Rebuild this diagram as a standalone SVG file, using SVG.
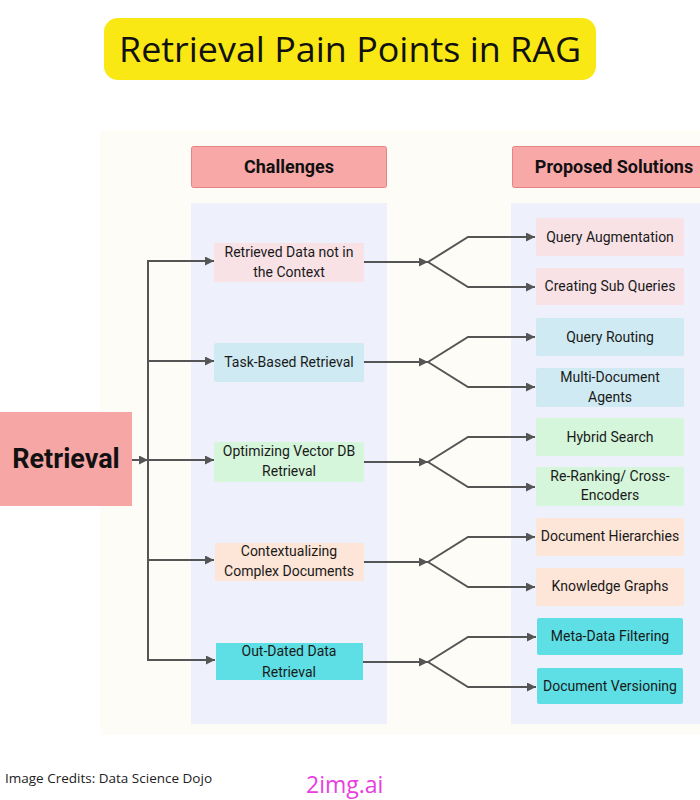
<svg xmlns="http://www.w3.org/2000/svg" width="700" height="800" viewBox="0 0 700 800">
<defs>
<marker id="arr" viewBox="0 0 10 10" refX="10" refY="5" markerWidth="9" markerHeight="9" markerUnits="userSpaceOnUse" orient="auto">
<path d="M0,0 L10,5 L0,10 z" fill="#555"/>
</marker>
</defs>
<style>
.t{font-family:Roboto,"Liberation Sans",sans-serif;font-size:14px;fill:#1a1a1a;text-anchor:middle}
.h{font-family:Roboto,"Liberation Sans",sans-serif;font-size:18px;font-weight:bold;fill:#111;text-anchor:middle}
.c{fill:none;stroke:#555;stroke-width:2}
.pink{fill:#f8e2e6}.blue{fill:#cfeaf2}.green{fill:#d5f6da}.peach{fill:#fde5d7}.cyan{fill:#5ddfe5}
</style>
<rect width="700" height="800" fill="#ffffff"/>
<g id="title">
<rect x="104" y="18" width="492" height="62" rx="14" fill="#f9e814"/>
<text x="350" y="62" font-family="'Open Sans','Liberation Sans',sans-serif" font-size="34" fill="#111" text-anchor="middle" textLength="462" lengthAdjust="spacingAndGlyphs">Retrieval Pain Points in RAG</text>
</g>
<rect x="100" y="130" width="600" height="605" fill="#fdfcf7"/>
<g id="challenges-header">
<rect x="191.5" y="146.5" width="195" height="41" rx="2" fill="#f9a8a8" stroke="#e58383" stroke-width="1"/>
<text class="h" x="289" y="173">Challenges</text>
</g>
<g id="solutions-header">
<rect x="512.5" y="146.5" width="195" height="41" rx="2" fill="#f9a8a8" stroke="#e58383" stroke-width="1"/>
<text class="h" x="614" y="173">Proposed Solutions</text>
</g>
<rect x="191" y="203" width="196" height="521" fill="#eef0fb"/>
<rect x="511" y="203" width="189" height="521" fill="#eef0fb"/>
<g id="retrieval">
<rect x="0" y="412" width="132" height="94" fill="#f7a6a6"/>
<text x="66" y="468" font-family="Roboto,'Liberation Sans',sans-serif" font-size="27" font-weight="bold" fill="#111" text-anchor="middle">Retrieval</text>
</g>
<g id="connectors">
<line class="c" x1="132" y1="460" x2="148" y2="460" marker-end="url(#arr)"/>
<line class="c" x1="148" y1="260" x2="148" y2="661"/>
<line class="c" x1="147" y1="261" x2="214" y2="261" marker-end="url(#arr)"/>
<line class="c" x1="147" y1="361" x2="214" y2="361" marker-end="url(#arr)"/>
<line class="c" x1="147" y1="460" x2="214" y2="460" marker-end="url(#arr)"/>
<line class="c" x1="147" y1="560" x2="214" y2="560" marker-end="url(#arr)"/>
<line class="c" x1="147" y1="660" x2="215" y2="660" marker-end="url(#arr)"/>
<line class="c" x1="364" y1="262" x2="428" y2="262" marker-end="url(#arr)"/>
<polyline class="c" points="428,262 468,237 535,237" marker-end="url(#arr)"/>
<polyline class="c" points="428,262 468,287 535,287" marker-end="url(#arr)"/>
<line class="c" x1="364" y1="362" x2="428" y2="362" marker-end="url(#arr)"/>
<polyline class="c" points="428,362 468,337 535,337" marker-end="url(#arr)"/>
<polyline class="c" points="428,362 468,387 535,387" marker-end="url(#arr)"/>
<line class="c" x1="364" y1="462" x2="428" y2="462" marker-end="url(#arr)"/>
<polyline class="c" points="428,462 468,437 535,437" marker-end="url(#arr)"/>
<polyline class="c" points="428,462 468,487 535,487" marker-end="url(#arr)"/>
<line class="c" x1="364" y1="562" x2="428" y2="562" marker-end="url(#arr)"/>
<polyline class="c" points="428,562 468,537 535,537" marker-end="url(#arr)"/>
<polyline class="c" points="428,562 468,587 535,587" marker-end="url(#arr)"/>
<line class="c" x1="363" y1="662" x2="428" y2="662" marker-end="url(#arr)"/>
<polyline class="c" points="428,662 468,637 536,637" marker-end="url(#arr)"/>
<polyline class="c" points="428,662 468,687 536,687" marker-end="url(#arr)"/>
</g>
<g id="ch1"><rect class="pink" x="214" y="243" width="150" height="39"/><text class="t" x="289" y="257">Retrieved Data not in</text><text class="t" x="289" y="277">the Context</text></g>
<g id="ch2"><rect class="blue" x="214" y="343" width="150" height="39" rx="2"/><text class="t" x="289" y="367">Task-Based Retrieval</text></g>
<g id="ch3"><rect class="green" x="214" y="442" width="150" height="40" rx="2"/><text class="t" x="289" y="456">Optimizing Vector DB</text><text class="t" x="289" y="476">Retrieval</text></g>
<g id="ch4"><rect class="peach" x="215" y="543" width="149" height="38"/><text class="t" x="289" y="556">Contextualizing</text><text class="t" x="289" y="576">Complex Documents</text></g>
<g id="ch5"><rect class="cyan" x="216" y="643" width="147" height="37"/><text class="t" x="289" y="656">Out-Dated Data</text><text class="t" x="289" y="677">Retrieval</text></g>
<g id="s1"><rect class="pink" x="536" y="218" width="148" height="38" rx="2"/><text class="t" x="610" y="242">Query Augmentation</text></g>
<g id="s2"><rect class="pink" x="536" y="268" width="148" height="37" rx="2"/><text class="t" x="610" y="291">Creating Sub Queries</text></g>
<g id="s3"><rect class="blue" x="536" y="318" width="148" height="38" rx="2"/><text class="t" x="610" y="342">Query Routing</text></g>
<g id="s4"><rect class="blue" x="536" y="368" width="148" height="39" rx="2"/><text class="t" x="610" y="382">Multi-Document</text><text class="t" x="610" y="402">Agents</text></g>
<g id="s5"><rect class="green" x="536" y="418" width="148" height="38" rx="2"/><text class="t" x="610" y="442">Hybrid Search</text></g>
<g id="s6"><rect class="green" x="536" y="467" width="148" height="39" rx="2"/><text class="t" x="610" y="481">Re-Ranking/ Cross-</text><text class="t" x="610" y="500">Encoders</text></g>
<g id="s7"><rect class="peach" x="536" y="518" width="148" height="38" rx="2"/><text class="t" x="610" y="541">Document Hierarchies</text></g>
<g id="s8"><rect class="peach" x="536" y="568" width="148" height="38" rx="2"/><text class="t" x="610" y="591">Knowledge Graphs</text></g>
<g id="s9"><rect class="cyan" x="537" y="618" width="146" height="37" rx="2"/><text class="t" x="610" y="641">Meta-Data Filtering</text></g>
<g id="s10"><rect class="cyan" x="537" y="668" width="146" height="36" rx="2"/><text class="t" x="610" y="691">Document Versioning</text></g>
<text x="5" y="783" font-family="'Open Sans','Liberation Sans',sans-serif" font-size="13.5" fill="#222">Image Credits: Data Science Dojo</text>
<text x="306" y="793" font-family="'Open Sans','Liberation Sans',sans-serif" font-size="23" fill="#e840e0">2img.ai</text>
</svg>
